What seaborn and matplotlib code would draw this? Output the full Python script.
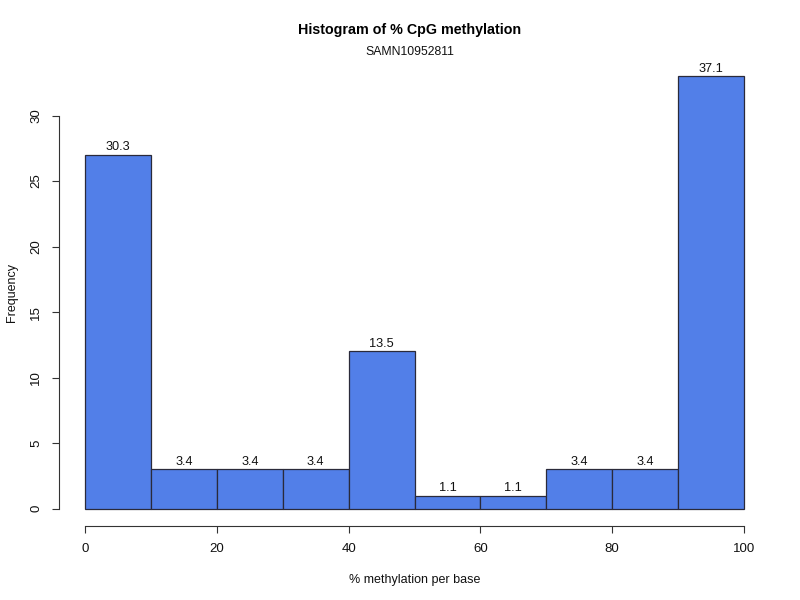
import matplotlib
matplotlib.use("Agg")
import matplotlib.pyplot as plt
import seaborn as sns
import numpy as np
import pandas as pd

# Data
bin_edges = [0, 10, 20, 30, 40, 50, 60, 70, 80, 90, 100]
bin_mids = [5, 15, 25, 35, 45, 55, 65, 75, 85, 95]
counts = [27, 3, 3, 3, 12, 1, 1, 3, 3, 33]
pct_labels = ["30.3", "3.4", "3.4", "3.4", "13.5", "1.1", "1.1", "3.4", "3.4", "37.1"]
x_ticks = [0, 20, 40, 60, 80, 100]
y_ticks = [0, 5, 10, 15, 20, 25, 30]

df = pd.DataFrame({"meth": bin_mids, "n": counts})

sns.set_style("white")
plt.rcParams['font.family'] = ['Liberation Sans', 'DejaVu Sans']

fig = plt.figure(figsize=(8, 6), dpi=100)
ax = fig.add_axes([0.0738, 0.1233, 0.8887, 0.7784])

sns.histplot(data=df, x="meth", weights="n", bins=bin_edges, ax=ax,
             color="#527FE8", edgecolor="#2a2a3a", linewidth=0.9, alpha=1.0)

for p, lab in zip(ax.patches, pct_labels):
    ax.text(p.get_x() + p.get_width() / 2, p.get_height() + 0.12, lab,
            ha="center", va="bottom", fontsize=9.2, color="#111111")

ax.set_xlim(-4, 104)
ax.set_ylim(-1.32, 34.32)
ax.set_xticks(x_ticks)
ax.set_yticks(y_ticks)
ax.set_xticklabels([str(v) for v in x_ticks], fontsize=9.5, color="#111111")
ax.set_yticklabels([str(v) for v in y_ticks], fontsize=9.5, rotation=90, va="center",
                   color="#111111")
ax.tick_params(axis="both", direction="out", length=5, width=0.8, color="#333333",
               left=True, bottom=True, pad=7)

for s in ["top", "right"]:
    ax.spines[s].set_visible(False)
ax.spines["left"].set_bounds(0, 30)
ax.spines["bottom"].set_bounds(0, 100)
for s in ["left", "bottom"]:
    ax.spines[s].set_color("#333333")
    ax.spines[s].set_linewidth(0.8)

ax.set_xlabel("% methylation per base", fontsize=9, labelpad=14, color="#111111")
ax.set_ylabel("Frequency", fontsize=9, labelpad=9, color="#111111")

fig.text(0.5125, 0.95, "Histogram of % CpG methylation", ha="center", va="center",
         fontsize=10.3, fontweight="bold", color="#000000")
fig.text(0.5125, 0.913, "SAMN10952811", ha="center", va="center", fontsize=8.8,
         color="#111111")

fig.savefig("out.png", dpi=100)
